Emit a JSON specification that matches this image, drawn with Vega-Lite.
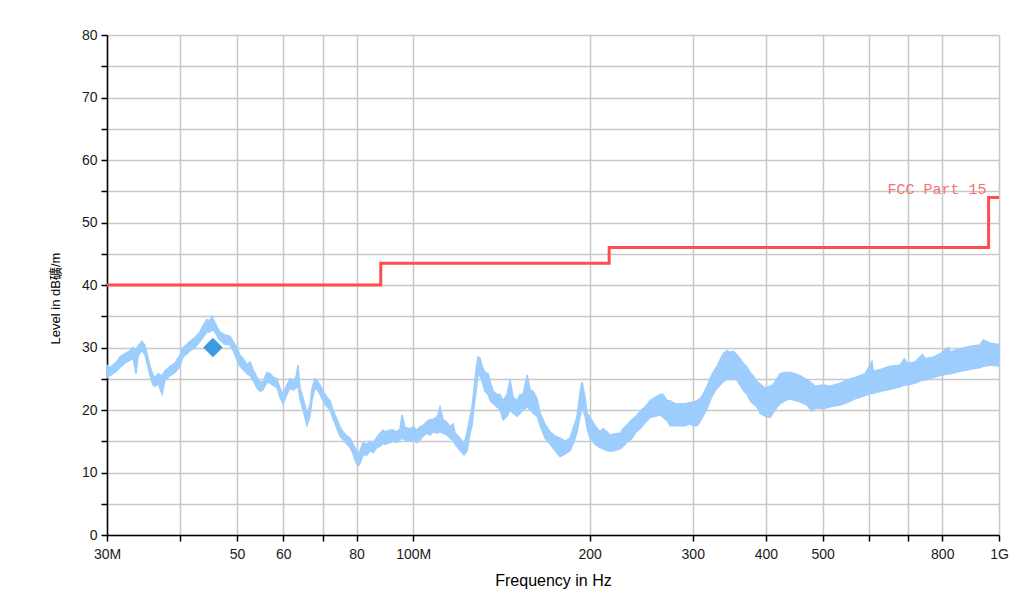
{
  "$schema": "https://vega.github.io/schema/vega-lite/v6.json",
  "width": 892,
  "height": 500,
  "autosize": {"type": "none"},
  "padding": {"left": 107, "top": 35, "right": 31, "bottom": 60},
  "background": "white",
  "config": {
    "view": {"stroke": null},
    "font": "Liberation Sans"
  },
  "datasets": {
    "trace": [
      {"f":30.0,"v":25.2,"v2":27.2},{"f":30.36,"v":25.5,"v2":26.8},{"f":30.71,"v":25.8,"v2":27.2},{"f":31.2,"v":26.3,"v2":27.8},
      {"f":31.57,"v":26.8,"v2":28.5},{"f":32.2,"v":27.5,"v2":29},{"f":32.85,"v":28,"v2":29.5},{"f":33.24,"v":28.3,"v2":30},
      {"f":33.63,"v":25.8,"v2":29.6},{"f":33.89,"v":28.6,"v2":30.2},{"f":34.43,"v":29.6,"v2":31},{"f":34.84,"v":28.8,"v2":30.3},
      {"f":35.11,"v":27.5,"v2":29},{"f":35.53,"v":25.5,"v2":27},{"f":35.95,"v":24,"v2":25.6},{"f":36.24,"v":23.8,"v2":25.2},
      {"f":36.67,"v":24.2,"v2":25.8},{"f":37.25,"v":22.5,"v2":25.5},{"f":37.69,"v":24.8,"v2":26.3},{"f":38.44,"v":25.5,"v2":27},
      {"f":39.19,"v":26,"v2":27.5},{"f":39.97,"v":27,"v2":28.8},{"f":40.45,"v":28.5,"v2":30},{"f":41.09,"v":29,"v2":30.5},
      {"f":41.57,"v":29.5,"v2":31},{"f":42.4,"v":30,"v2":31.6},{"f":43.24,"v":31,"v2":32.5},{"f":43.75,"v":31.6,"v2":33.5},
      {"f":44.44,"v":32.5,"v2":34.5},{"f":44.97,"v":32.5,"v2":34.3},{"f":45.32,"v":33,"v2":35},{"f":45.85,"v":32.5,"v2":34},
      {"f":46.4,"v":31.6,"v2":33},{"f":46.76,"v":31.2,"v2":32.5},{"f":47.7,"v":30.5,"v2":32},{"f":48.65,"v":30.4,"v2":31.8},
      {"f":49.22,"v":29.6,"v2":31},{"f":50.0,"v":28,"v2":30},{"f":50.59,"v":27,"v2":28.8},{"f":51.19,"v":26.5,"v2":28.3},
      {"f":52.0,"v":25.8,"v2":27.2},{"f":52.63,"v":25.5,"v2":27.7},{"f":53.25,"v":24.8,"v2":26.5},{"f":54.1,"v":23.5,"v2":25.2},
      {"f":54.74,"v":23,"v2":24.5},{"f":55.38,"v":23.2,"v2":24.5},{"f":56.26,"v":24.5,"v2":26},{"f":56.93,"v":24.3,"v2":25.8},
      {"f":57.6,"v":24,"v2":25.3},{"f":58.52,"v":23.6,"v2":25},{"f":59.21,"v":22,"v2":23.5},{"f":59.91,"v":21,"v2":22.5},
      {"f":60.86,"v":22.5,"v2":24},{"f":61.58,"v":23.5,"v2":25},{"f":62.32,"v":23.2,"v2":24.8},{"f":63.06,"v":23.5,"v2":25.2},
      {"f":63.56,"v":24,"v2":27.2},{"f":64.06,"v":21.8,"v2":23.5},{"f":64.82,"v":20,"v2":22},{"f":65.85,"v":17.5,"v2":19.5},
      {"f":66.63,"v":19,"v2":20.8},{"f":67.16,"v":21.5,"v2":23.5},{"f":67.95,"v":23.5,"v2":25},{"f":68.49,"v":23.3,"v2":24.8},
      {"f":69.31,"v":22.5,"v2":24},{"f":70.13,"v":21.5,"v2":23},{"f":71.24,"v":20.5,"v2":22},{"f":72.09,"v":20,"v2":21.5},
      {"f":72.94,"v":18.6,"v2":20},{"f":74.1,"v":17,"v2":18.5},{"f":74.98,"v":15.8,"v2":17.3},{"f":75.87,"v":15.3,"v2":16.5},
      {"f":77.08,"v":14.5,"v2":15.8},{"f":77.99,"v":14,"v2":15.5},{"f":78.92,"v":13,"v2":14.5},{"f":79.54,"v":12,"v2":14},
      {"f":80.48,"v":11,"v2":13},{"f":81.12,"v":11.5,"v2":13.5},{"f":82.07,"v":12.8,"v2":14.8},{"f":83.38,"v":12.8,"v2":14.5},
      {"f":84.39,"v":13.5,"v2":15},{"f":85.39,"v":13.2,"v2":14.7},{"f":86.74,"v":14,"v2":15.7},{"f":87.77,"v":14.2,"v2":16.3},
      {"f":88.8,"v":14.7,"v2":16.8},{"f":89.5,"v":14.5,"v2":16.5},{"f":91.28,"v":14.8,"v2":16.8},{"f":92.36,"v":15,"v2":16.8},
      {"f":93.8,"v":14.8,"v2":16.5},{"f":94.93,"v":15.2,"v2":17},{"f":95.67,"v":15.5,"v2":19.2},{"f":96.8,"v":15.2,"v2":17.2},
      {"f":98.72,"v":15,"v2":17},{"f":99.9,"v":15.2,"v2":17.3},{"f":101.5,"v":14.8,"v2":16.8},{"f":102.7,"v":15.2,"v2":17.3},
      {"f":103.9,"v":15.8,"v2":17.5},{"f":105.6,"v":16.3,"v2":18.2},{"f":106.8,"v":16,"v2":18.5},{"f":108.1,"v":16.5,"v2":18.5},
      {"f":109.8,"v":16.3,"v2":18.9},{"f":111.1,"v":16.5,"v2":20.5},{"f":112.4,"v":16.3,"v2":18.5},{"f":114.2,"v":16,"v2":18},
      {"f":115.6,"v":15.5,"v2":17.3},{"f":116.9,"v":15.2,"v2":17.8},{"f":117.9,"v":14.5,"v2":16.3},{"f":120.2,"v":13.5,"v2":15.5},
      {"f":122.1,"v":12.8,"v2":14.5},{"f":123.6,"v":13.5,"v2":16.5},{"f":125.0,"v":16.3,"v2":18.9},{"f":126.0,"v":17.5,"v2":20.5},
      {"f":127.0,"v":20.5,"v2":23.5},{"f":128.0,"v":23,"v2":26.5},{"f":129.0,"v":25.5,"v2":28.5},{"f":130.0,"v":25.5,"v2":28.3},
      {"f":131.1,"v":24.5,"v2":27},{"f":132.6,"v":23,"v2":26},{"f":134.2,"v":22.5,"v2":25.8},{"f":135.3,"v":21.5,"v2":24.5},
      {"f":136.9,"v":21,"v2":23},{"f":139.0,"v":20.5,"v2":22.5},{"f":140.7,"v":20,"v2":22.5},{"f":142.3,"v":18.4,"v2":21.5},
      {"f":144.6,"v":19,"v2":22.5},{"f":146.3,"v":20,"v2":24.8},{"f":148.1,"v":19.5,"v2":22},{"f":150.4,"v":19,"v2":21.5},
      {"f":152.2,"v":19.5,"v2":22.5},{"f":154.0,"v":20,"v2":22.5},{"f":156.5,"v":20.5,"v2":25.6},{"f":158.3,"v":20,"v2":23.2},
      {"f":160.2,"v":19.5,"v2":23},{"f":162.7,"v":19,"v2":21.8},{"f":164.7,"v":17.5,"v2":19.5},{"f":167.9,"v":15.5,"v2":17.7},
      {"f":171.3,"v":14.5,"v2":16.5},{"f":174.7,"v":13.5,"v2":15.8},{"f":178.1,"v":12.5,"v2":15.5},{"f":181.6,"v":13,"v2":15},
      {"f":185.2,"v":13.5,"v2":15.5},{"f":188.2,"v":15,"v2":17.5},{"f":190.4,"v":16.5,"v2":19},{"f":192.7,"v":19,"v2":23},
      {"f":194.2,"v":20.5,"v2":24.5},{"f":196.5,"v":19,"v2":22},{"f":198.1,"v":17,"v2":19.5},{"f":200.4,"v":15.5,"v2":18.8},
      {"f":204.4,"v":14.5,"v2":17.5},{"f":208.4,"v":14,"v2":16.5},{"f":210.9,"v":13.8,"v2":17},{"f":214.2,"v":13.5,"v2":16.5},
      {"f":216.8,"v":13.4,"v2":16},{"f":221.1,"v":13.5,"v2":16.2},{"f":225.5,"v":13.8,"v2":16.3},{"f":228.2,"v":14.2,"v2":17},
      {"f":232.7,"v":15,"v2":17.8},{"f":236.4,"v":15.5,"v2":18.5},{"f":240.1,"v":16.5,"v2":19},{"f":244.0,"v":17,"v2":19.8},
      {"f":248.8,"v":18,"v2":20.5},{"f":253.8,"v":18.8,"v2":21.5},{"f":258.8,"v":19,"v2":22},{"f":263.9,"v":19.2,"v2":22.5},
      {"f":267.0,"v":18.8,"v2":22.5},{"f":271.3,"v":18.3,"v2":21.5},{"f":274.5,"v":17.5,"v2":21.5},{"f":279.9,"v":17.5,"v2":21},
      {"f":285.5,"v":17.5,"v2":21},{"f":291.2,"v":17.5,"v2":21},{"f":297.0,"v":17.8,"v2":21.2},{"f":300.4,"v":17.5,"v2":21.2},
      {"f":305.1,"v":17.5,"v2":21.5},{"f":308.7,"v":18.2,"v2":21.8},{"f":312.4,"v":19,"v2":22.5},{"f":317.3,"v":20.2,"v2":23.8},
      {"f":321.1,"v":21.5,"v2":25},{"f":324.9,"v":22.5,"v2":26},{"f":330.1,"v":23.5,"v2":27},{"f":334.0,"v":24,"v2":28},
      {"f":338.0,"v":24.5,"v2":29},{"f":343.3,"v":25,"v2":29.5},{"f":347.4,"v":24.8,"v2":29.2},{"f":351.5,"v":25,"v2":29.4},
      {"f":357.1,"v":24.8,"v2":28.8},{"f":361.4,"v":24,"v2":28.2},{"f":365.7,"v":23.2,"v2":27.5},{"f":371.5,"v":22.5,"v2":26.8},
      {"f":375.9,"v":21.5,"v2":26},{"f":380.4,"v":21,"v2":25.5},{"f":386.4,"v":20.5,"v2":24.5},{"f":390.9,"v":19.5,"v2":24.2},
      {"f":398.7,"v":19,"v2":23.5},{"f":406.6,"v":18.8,"v2":23.8},{"f":411.4,"v":19.5,"v2":24},{"f":417.9,"v":20.5,"v2":25},
      {"f":422.9,"v":21,"v2":25.8},{"f":431.3,"v":21.5,"v2":26},{"f":439.8,"v":21.8,"v2":26},{"f":448.6,"v":21.5,"v2":25.8},
      {"f":457.5,"v":21.3,"v2":25.5},{"f":470.2,"v":20.8,"v2":24.8},{"f":479,"v":19.8,"v2":24.3},{"f":485.3,"v":20.3,"v2":23.8},{"f":500.8,"v":20.2,"v2":24},
      {"f":514.7,"v":20.5,"v2":23.8},{"f":535.4,"v":20.8,"v2":24.3},{"f":550.3,"v":21.2,"v2":24.8},{"f":567.9,"v":21.8,"v2":25.2},
      {"f":590.7,"v":22.3,"v2":25.8},{"f":607,"v":22.7,"v2":27.8},{"f":610.2,"v":22.7,"v2":26.2},{"f":627.2,"v":23,"v2":26.5},{"f":652.4,"v":23.3,"v2":27},
      {"f":678.5,"v":23.7,"v2":27.2},{"f":689,"v":24,"v2":28.2},{"f":697.5,"v":24,"v2":27.5},{"f":719.8,"v":24.3,"v2":27.7},{"f":740,"v":24.8,"v2":28.9},{"f":748.6,"v":24.8,"v2":28.2},
      {"f":772.6,"v":25.2,"v2":28.5},{"f":794.1,"v":25.5,"v2":29},{"f":819,"v":25.8,"v2":30},{"f":826,"v":25.8,"v2":29.3},{"f":858.9,"v":26.2,"v2":29.8},
      {"f":893.4,"v":26.5,"v2":30.2},{"f":928.9,"v":26.8,"v2":30.4},{"f":940,"v":27,"v2":31.2},{"f":966,"v":27.2,"v2":30.7},{"f":1000,"v":27,"v2":30.5}
    ],
    "limit": [
      {"f":30,"v":40},{"f":88,"v":43.5},{"f":216,"v":46},{"f":960,"v":54},{"f":1000,"v":54}
    ],
    "peak": [{"f":45.5,"v":30}],
    "label": [{"f":960,"v":54,"label":"FCC Part 15"}]
  },
  "encoding": {
    "x": {
      "field": "f", "type": "quantitative",
      "scale": {"type": "log", "domain": [30, 1000], "nice": false},
      "axis": {
        "title": "Frequency in Hz",
        "values": [30,40,50,60,70,80,100,200,300,400,500,600,700,800,1000],
        "format": "d",
        "labelExpr": "datum.value==30?'30M':datum.value==100?'100M':datum.value==1000?'1G':(datum.value==40||datum.value==70||datum.value==600||datum.value==700)?'':datum.label",
        "labelOverlap": false, "labelFlush": false,
        "labelFontSize": 14, "labelColor": "#1a1a1a", "labelPadding": 6,
        "tickSize": 6, "tickColor": "#000", "tickWidth": 1.5,
        "domainColor": "#000", "domainWidth": 1.5,
        "grid": true, "gridColor": "#c8c8c8", "gridWidth": 1.5,
        "titleFontSize": 16, "titleFontWeight": "normal", "titleColor": "#000", "titlePadding": 11
      }
    },
    "y": {
      "field": "v", "type": "quantitative",
      "scale": {"domain": [0, 80], "nice": false, "zero": false},
      "axis": {
        "title": "Level in dB礦/m",
        "values": [0,5,10,15,20,25,30,35,40,45,50,55,60,65,70,75,80],
        "labelExpr": "datum.value % 10 == 0 ? datum.label : ''",
        "labelFontSize": 14, "labelColor": "#1a1a1a", "labelPadding": 4,
        "tickSize": 6, "tickColor": "#000", "tickWidth": 1.5,
        "domainColor": "#000", "domainWidth": 1.5,
        "grid": true, "gridColor": "#c8c8c8", "gridWidth": 1.5,
        "titleFontSize": 13, "titleFontWeight": "normal", "titleColor": "#000",
        "titleFont": "Liberation Sans, Noto Sans CJK SC",
        "titleAngle": 270, "titleX": -45, "titleY": 263, "titleBaseline": "bottom", "titleAlign": "center"
      }
    }
  },
  "layer": [
    {
      "data": {"name": "trace"},
      "mark": {"type": "area", "color": "#9dcdfc", "stroke": "#9dcdfc", "strokeWidth": 1.5, "opacity": 1},
      "encoding": {"y2": {"field": "v2"}}
    },
    {
      "data": {"name": "limit"},
      "mark": {"type": "line", "color": "#ff4d4d", "strokeWidth": 3, "interpolate": "step-after"},
      "encoding": {}
    },
    {
      "data": {"name": "peak"},
      "mark": {"type": "point", "shape": "diamond", "filled": true, "size": 380, "color": "#3d9ae0", "opacity": 1},
      "encoding": {}
    },
    {
      "data": {"name": "label"},
      "mark": {"type": "text", "align": "right", "baseline": "alphabetic", "dx": -2, "dy": -4, "font": "Liberation Mono", "fontSize": 15, "color": "#f47272"},
      "encoding": {"text": {"field": "label"}}
    }
  ]
}
